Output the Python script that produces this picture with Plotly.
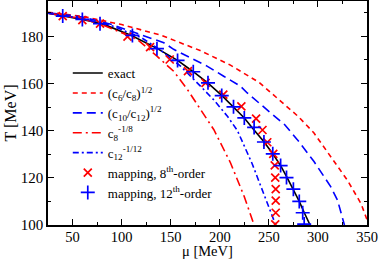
import plotly.graph_objects as go

# exact
mu_exact = [25, 40, 60, 80, 110, 136, 157, 173, 188, 202, 214, 225, 234.5, 245, 254, 262, 268.5, 275, 281, 286, 289.5, 292]
T_exact = [189.8, 188.7, 187.2, 185.4, 180.4, 174.9, 169.8, 165.0, 160.2, 155.0, 150.1, 145.4, 140.5, 135.3, 130.2, 125.2, 120.2, 115.2, 110.0, 105.3, 102.0, 100.0]

# (c6/c8)^1/2
mu_r6 = [25, 60, 100, 140, 180, 210, 240, 262, 280, 296, 313, 330, 344, 352]
T_r6 = [190.2, 188.5, 185.0, 180.5, 174.0, 168.0, 160.5, 152.5, 146.0, 139.0, 129.0, 119.0, 109.0, 100.0]

# (c10/c12)^1/2
mu_r10 = [25, 60, 90, 112, 126, 143, 153, 174, 187, 204, 221, 228, 245, 252, 266, 279, 296, 313, 320, 327]
T_r10 = [190.0, 188.2, 185.0, 181.8, 179.9, 177.3, 174.5, 170.2, 167.4, 163.1, 158.9, 156.0, 149.7, 147.5, 142.6, 136.2, 126.9, 116.3, 110.5, 100.0]

# c8^-1/8
mu_c8 = [25, 60, 80, 99, 116, 136, 153, 167, 180, 194, 211, 225, 235]
T_c8 = [189.8, 187.5, 185.0, 181.6, 178.7, 171.6, 165.2, 157.5, 149.5, 140.4, 126.3, 112.0, 100.0]

# c12^-1/12
mu_c12 = [25, 60, 90, 120, 140, 160, 177, 194, 208, 218, 233, 246, 257]
T_c12 = [189.8, 187.5, 184.5, 179.5, 174.0, 167.4, 160.3, 153.0, 146.0, 140.0, 126.0, 112.0, 100.0]

# mapping, 8th order
mu_m8 = [40, 60, 78, 106, 129, 149, 167.6, 185.5, 203.6, 222, 237, 243.5, 248.4, 254.5, 256, 256.5, 257, 257, 257, 256.5]
T_m8 = [188.6, 186.9, 185.4, 179.9, 175.4, 170.2, 165.3, 160.3, 155.3, 150.3, 145.1, 140.3, 135.1, 130.2, 125.3, 120.1, 115.2, 110.3, 105.2, 100.3]

# mapping, 12th order
mu_m12 = [40, 60, 78, 111, 136, 157, 173, 188, 202, 214, 225, 235, 245, 254, 262, 268, 275, 281, 284.5, 286]
T_m12 = [188.6, 187.2, 185.4, 180.4, 174.8, 169.8, 165.0, 160.3, 154.9, 150.1, 145.4, 141.4, 135.2, 130.2, 125.2, 120.1, 115.2, 110.0, 105.2, 100.4]

x_ticks = [50, 100, 150, 200, 250, 300, 350]
y_ticks = [100, 120, 140, 160, 180]

RED = "#ff0000"
BLUE = "#0000ff"
FONT = "Liberation Serif, Times New Roman, serif"

fig = go.Figure()
fig.add_trace(go.Scatter(x=mu_exact, y=T_exact, mode="lines", name="exact",
                         line=dict(color="black", width=1.6)))
fig.add_trace(go.Scatter(x=mu_r6, y=T_r6, mode="lines",
                         name="(c<sub>6</sub>/c<sub>8</sub>)<sup>1/2</sup>",
                         line=dict(color=RED, width=1.6, dash="5px,4px")))
fig.add_trace(go.Scatter(x=mu_r10, y=T_r10, mode="lines",
                         name="(c<sub>10</sub>/c<sub>12</sub>)<sup>1/2</sup>",
                         line=dict(color=BLUE, width=1.6, dash="9px,5px")))
fig.add_trace(go.Scatter(x=mu_c8, y=T_c8, mode="lines",
                         name="c<sub>8</sub><sup>-1/8</sup>",
                         line=dict(color=RED, width=1.6, dash="9px,4px,2px,4px")))
fig.add_trace(go.Scatter(x=mu_c12, y=T_c12, mode="lines",
                         name="c<sub>12</sub><sup>-1/12</sup>",
                         line=dict(color=BLUE, width=1.6, dash="6px,3px,2px,3px")))
fig.add_trace(go.Scatter(x=mu_m8, y=T_m8, mode="markers",
                         name="mapping, 8<sup>th</sup>-order",
                         marker=dict(symbol="x-thin", size=8, color=RED,
                                     line=dict(color=RED, width=1.7))))
fig.add_trace(go.Scatter(x=mu_m12, y=T_m12, mode="markers",
                         name="mapping, 12<sup>th</sup>-order",
                         marker=dict(symbol="cross-thin", size=10, color=BLUE,
                                     line=dict(color=BLUE, width=1.7))))

axis_common = dict(
    showgrid=False, zeroline=False, showline=True, linecolor="black", linewidth=1.5,
    mirror="allticks", ticks="inside", ticklen=6, tickwidth=1.2, tickcolor="black",
    automargin=False,
)

fig.update_layout(
    width=382, height=260,
    margin=dict(l=48, r=15, t=1, b=35),
    paper_bgcolor="white", plot_bgcolor="white",
    font=dict(family=FONT, color="black"),
    showlegend=True,
    legend=dict(x=0.062, y=0.745, xanchor="left", yanchor="top",
                bgcolor="rgba(0,0,0,0)", font=dict(family=FONT, size=13, color="black"),
                tracegroupgap=0, itemwidth=30),
    xaxis=dict(range=[25, 350], tickvals=x_ticks, ticklabelstandoff=-2,
               tickfont=dict(family=FONT, size=14.5, color="black"),
               minor=dict(dtick=25, tick0=0, ticks="inside", ticklen=3, tickcolor="black"),
               **axis_common),
    yaxis=dict(range=[100, 195], tickvals=y_ticks,
               tickfont=dict(family=FONT, size=15, color="black"),
               minor=dict(dtick=10, tick0=100, ticks="inside", ticklen=3, tickcolor="black"),
               title=dict(text="T [MeV]", font=dict(family=FONT, size=16), standoff=0),
               **axis_common),
    annotations=[dict(text="μ [MeV]", xref="paper", yref="paper", x=0.5, y=-35 / 224,
                      xanchor="center", yanchor="bottom", showarrow=False, borderpad=0,
                      font=dict(family=FONT, size=14.5, color="black"))],
)

fig.write_html("out.html", config={"displayModeBar": False},
               post_script="document.body.style.margin='0';")
